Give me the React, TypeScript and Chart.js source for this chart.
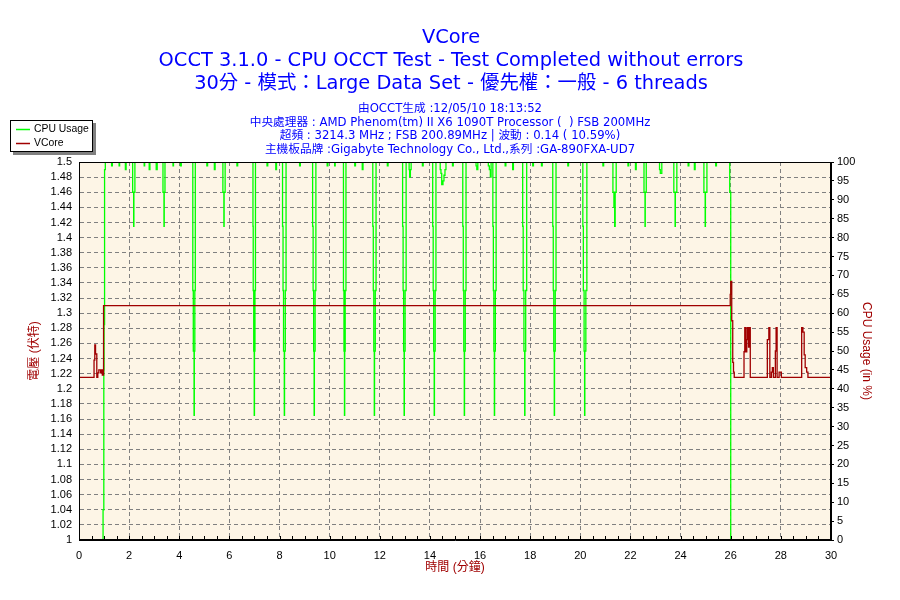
import React, { useEffect, useRef } from 'react';
import { Chart, registerables } from 'chart.js';

Chart.register(...registerables);

// ---------- text ----------
const titleLines = [
  'VCore',
  'OCCT 3.1.0 - CPU OCCT Test - Test Completed without errors',
  '30分 - 模式：Large Data Set - 優先權：一般 - 6 threads',
];
const infoLines = [
  '由OCCT生成 :12/05/10 18:13:52',
  '中央處理器 : AMD Phenom(tm) II X6 1090T Processor (  ) FSB 200MHz',
  '超頻 : 3214.3 MHz ; FSB 200.89MHz | 波動 : 0.14 ( 10.59%)',
  '主機板品牌 :Gigabyte Technology Co., Ltd.,系列 :GA-890FXA-UD7',
];
const legendLabels = ['CPU Usage', 'VCore'];
const xTitle = '時間 (分鐘)';
const leftTitle = '電壓 (伏特)';
const rightTitle = 'CPU Usage (in %)';

// ---------- data (change points: value holds from this minute on) ----------
const vcoreMinutes = [
  0, 0.6, 0.63, 0.66, 0.71, 0.75, 0.79, 0.86, 0.9, 0.93, 0.98,
  25.98, 26.0, 26.04, 26.08, 26.11, 26.14,
  26.53, 26.56, 26.61, 26.64, 26.67, 26.71, 26.75, 26.78,
  27.46, 27.52, 27.56, 27.62, 27.66, 27.7, 27.78, 27.81, 27.85, 27.93, 28.02,
  28.83, 28.88, 28.93, 28.97, 29.03, 29.08, 30,
];
const vcoreVolts = [
  1.215, 1.238, 1.258, 1.246, 1.215, 1.221, 1.225, 1.221, 1.225, 1.218, 1.31,
  1.325, 1.342, 1.29, 1.235, 1.222, 1.215,
  1.249, 1.281, 1.249, 1.265, 1.281, 1.255, 1.281, 1.215,
  1.265, 1.281, 1.215, 1.222, 1.228, 1.215, 1.25, 1.281, 1.215, 1.222, 1.215,
  1.281, 1.275, 1.245, 1.228, 1.222, 1.215, 1.215,
];

const cpuMinutes = [
  0.95, 0.96, 0.99, 1.0, 1.02, 1.05,
  1.3, 1.33, 1.6, 1.62, 1.85, 1.88,
  2.14, 2.18, 2.19, 2.23,
  2.6, 2.62, 2.8, 2.83, 3.08, 3.12,
  3.35, 3.39, 3.4, 3.43,
  3.75, 3.77, 4.05, 4.08,
  4.54, 4.56, 4.59, 4.6, 4.62, 4.64,
  5.1, 5.13, 5.4, 5.43,
  5.74, 5.78, 5.79, 5.83,
  6.3, 6.33,
  6.94, 6.95, 6.97, 6.99, 7.0, 7.02, 7.04,
  7.5, 7.53, 7.85, 7.88,
  8.12, 8.14, 8.16, 8.19, 8.2, 8.23, 8.26,
  8.8, 8.83,
  9.32, 9.34, 9.36, 9.38, 9.39, 9.42, 9.45,
  9.9, 9.93, 10.2, 10.22,
  10.55, 10.57, 10.59, 10.6, 10.62, 10.65,
  11.0, 11.03, 11.3, 11.33,
  11.72, 11.74, 11.76, 11.78, 11.79, 11.82, 11.85,
  12.3, 12.33,
  12.91, 12.93, 12.95, 12.97, 12.98, 13.01, 13.05,
  13.17, 13.19, 13.22, 13.25,
  13.7, 13.73,
  14.11, 14.13, 14.15, 14.17, 14.18, 14.21, 14.24,
  14.41, 14.44, 14.47, 14.52, 14.56, 14.6, 14.64,
  14.9, 14.93,
  15.31, 15.33, 15.35, 15.37, 15.38, 15.41, 15.44,
  15.84, 15.87, 15.91,
  16.33, 16.37, 16.41, 16.44,
  16.51, 16.53, 16.55, 16.57, 16.58, 16.61, 16.64,
  17.0, 17.03, 17.3, 17.33,
  17.7, 17.72, 17.75, 17.78, 17.79, 17.82, 17.86,
  18.1, 18.13, 18.45, 18.48,
  18.9, 18.92, 18.94, 18.96, 18.97, 19.0, 19.03,
  19.5, 19.53,
  20.1, 20.12, 20.15, 20.17, 20.18, 20.22, 20.26,
  20.9, 20.93,
  21.3, 21.34, 21.37, 21.39, 21.43,
  21.9, 21.93, 22.2, 22.23,
  22.54, 22.58, 22.59, 22.63,
  23.16, 23.19, 23.25,
  23.73, 23.78, 23.79, 23.85,
  24.3, 24.33, 24.55, 24.58,
  24.93, 24.98, 24.99, 25.05,
  25.4, 25.43,
  25.96, 26.0,
];
const cpuPercent = [
  0, 8, 45, 57, 98, 100,
  99, 100, 99, 100, 98, 100,
  92, 83, 92, 100,
  99, 100, 98, 100, 98, 100,
  92, 83, 92, 100,
  99, 100, 99, 100,
  66, 50, 33, 50, 66, 100,
  99, 100, 98, 100,
  92, 83, 92, 100,
  99, 100,
  83, 66, 50, 33, 50, 66, 100,
  99, 100, 98, 100,
  83, 66, 50, 33, 50, 66, 100,
  99, 100,
  83, 66, 50, 33, 50, 66, 100,
  99, 100, 99, 100,
  66, 50, 33, 50, 66, 100,
  99, 100, 98, 100,
  83, 66, 50, 33, 50, 66, 100,
  99, 100,
  83, 66, 50, 33, 50, 66, 100,
  98, 96, 98, 100,
  99, 100,
  83, 66, 50, 33, 50, 66, 100,
  98, 97, 94, 95, 96.5, 98, 100,
  99, 100,
  83, 66, 50, 33, 50, 66, 100,
  99, 98, 100,
  99, 98, 96, 100,
  83, 66, 50, 33, 50, 66, 100,
  99, 100, 98, 100,
  83, 66, 50, 33, 50, 66, 100,
  99, 100, 99, 100,
  83, 66, 50, 33, 50, 66, 100,
  99, 100,
  83, 66, 50, 33, 50, 66, 100,
  99, 100,
  92, 88, 83, 92, 100,
  99, 100, 98, 100,
  92, 83, 92, 100,
  98, 97, 100,
  92, 83, 92, 100,
  99, 100, 98, 100,
  92, 83, 92, 100,
  99, 100,
  92, 0,
];

// ---------- styles ----------
const GREEN = '#00ff00';
const RED = '#a00000';
const BLUE = '#0000ff';
const AXIS_RED = '#a00000';
const PLOT_BG = '#fdf5e6';
const GRID = '#808080';
const TICK_FONT = { family: '"Liberation Sans", Arial, "Noto Sans CJK TC", sans-serif', size: 11 };
const AXIS_TITLE_FONT = { family: '"Liberation Sans", Arial, "Noto Sans CJK TC", sans-serif', size: 12 };
const TITLE_FAMILY = '"DejaVu Sans", "Noto Sans CJK TC", sans-serif';

const decorPlugin = {
  id: 'decor',
  beforeDraw(chart: any) {
    const { ctx, chartArea: a } = chart;
    ctx.save();
    ctx.fillStyle = '#ffffff';
    ctx.fillRect(0, 0, chart.width, chart.height);
    ctx.fillStyle = PLOT_BG;
    ctx.fillRect(a.left, a.top, a.right - a.left, a.bottom - a.top);
    ctx.restore();
  },
  afterDatasetsDraw(chart: any) {
    const { ctx, chartArea: a } = chart;
    ctx.save();
    ctx.strokeStyle = '#000';
    ctx.lineWidth = 1;
    ctx.strokeRect(a.left + 0.5, a.top + 0.5, a.right - a.left - 1, a.bottom - a.top - 1);
    // inward tick marks on the time axis
    const xs = chart.scales.x;
    ctx.beginPath();
    for (const t of xs.ticks) {
      const px = Math.round(xs.getPixelForValue(t.value)) + 0.5;
      ctx.moveTo(px, a.bottom - 1);
      ctx.lineTo(px, a.bottom - 4);
    }
    ctx.stroke();
    ctx.restore();
  },
  afterDraw(chart: any) {
    const { ctx } = chart;
    ctx.save();
    ctx.fillStyle = BLUE;
    ctx.textAlign = 'center';
    ctx.textBaseline = 'middle';
    ctx.font = `19.4px ${TITLE_FAMILY}`;
    const ty = [38, 61, 84];
    titleLines.forEach((t, i) => ctx.fillText(t, 451, ty[i]));
    ctx.font = `11.7px ${TITLE_FAMILY}`;
    const iy = [109, 122.5, 136, 149.5];
    infoLines.forEach((t, i) => ctx.fillText(t, 450, iy[i]));

    // legend box
    ctx.fillStyle = '#808080';
    ctx.fillRect(13, 123, 83, 32);
    ctx.fillStyle = '#ffffff';
    ctx.fillRect(10, 120, 83, 32);
    ctx.strokeStyle = '#000';
    ctx.lineWidth = 1;
    ctx.strokeRect(10.5, 120.5, 82, 31);
    const colors = [GREEN, RED];
    const ly = [129.5, 143.5];
    ctx.font = '10.4px "Liberation Sans", Arial, sans-serif';
    ctx.textAlign = 'left';
    legendLabels.forEach((lab, i) => {
      ctx.strokeStyle = colors[i];
      ctx.lineWidth = 1.5;
      ctx.beginPath();
      ctx.moveTo(16, ly[i]);
      ctx.lineTo(30, ly[i]);
      ctx.stroke();
      ctx.fillStyle = '#000';
      ctx.fillText(lab, 34, ly[i]);
    });
    ctx.restore();
  },
};

export default function App() {
  const ref = useRef<HTMLCanvasElement>(null);

  useEffect(() => {
    const canvas = ref.current;
    if (!canvas) return;
    const vcoreData = vcoreMinutes.map((m, i) => ({ x: m, y: vcoreVolts[i] }));
    const cpuData = cpuMinutes.map((m, i) => ({ x: m, y: cpuPercent[i] }));

    const chart = new Chart(canvas, {
      type: 'line',
      data: {
        datasets: [
          {
            label: legendLabels[1],
            data: vcoreData,
            yAxisID: 'yV',
            borderColor: RED,
            borderWidth: 1.3,
            pointRadius: 0,
            stepped: true,
            fill: false,
            clip: 0,
          },
          {
            label: legendLabels[0],
            data: cpuData,
            yAxisID: 'yC',
            borderColor: GREEN,
            borderWidth: 1.3,
            pointRadius: 0,
            stepped: true,
            fill: false,
            clip: 0,
          },
        ],
      },
      options: {
        responsive: false,
        animation: false,
        events: [],
        layout: { padding: { top: 162, left: 0, right: 0, bottom: 0 } },
        plugins: {
          legend: { display: false },
          tooltip: { enabled: false },
          title: { display: false },
        },
        scales: {
          x: {
            type: 'linear',
            min: 0,
            max: 30,
            afterFit: (s: any) => { s.height = 60; },
            ticks: {
              stepSize: 0.5,
              autoSkip: false,
              maxRotation: 0,
              minRotation: 0,
              padding: 9,
              color: '#000',
              font: TICK_FONT,
              callback: (v: any) => (Number(v) % 2 === 0 ? String(v) : ''),
            },
            grid: {
              color: (c: any) => (c.tick && c.tick.value % 2 === 0 ? GRID : 'rgba(0,0,0,0)'),
              drawTicks: false,
              lineWidth: 1,
            },
            border: { color: '#000', dash: [4, 3] },
            title: {
              display: true,
              text: xTitle,
              color: AXIS_RED,
              font: AXIS_TITLE_FONT,
              padding: { top: 0, bottom: 24.8 },
            },
          },
          yV: {
            type: 'linear',
            position: 'left',
            min: 1,
            max: 1.5,
            afterFit: (s: any) => { s.width = 79; },
            ticks: {
              stepSize: 0.02,
              autoSkip: false,
              padding: 7,
              color: '#000',
              font: TICK_FONT,
              callback: (v: any) => String(Math.round(Number(v) * 100) / 100),
            },
            grid: { color: GRID, drawTicks: false, lineWidth: 1 },
            border: { color: '#000', dash: [4, 3] },
            title: {
              display: true,
              text: leftTitle,
              color: AXIS_RED,
              font: AXIS_TITLE_FONT,
              padding: { top: 27.8, bottom: 0 },
            },
          },
          yC: {
            type: 'linear',
            position: 'right',
            min: 0,
            max: 100,
            afterFit: (s: any) => { s.width = 69; },
            ticks: {
              stepSize: 5,
              autoSkip: false,
              padding: 3,
              color: '#000',
              font: TICK_FONT,
            },
            grid: { drawOnChartArea: false, drawTicks: true, tickLength: 3, tickColor: '#000' },
            border: { color: '#000' },
            title: {
              display: true,
              text: rightTitle,
              color: AXIS_RED,
              font: AXIS_TITLE_FONT,
              padding: { top: 26.8, bottom: 0 },
            },
          },
        },
      },
      plugins: [decorPlugin],
    } as any);

    return () => chart.destroy();
  }, []);

  return (
    <div style={{ position: 'fixed', left: 0, top: 0, width: 900, height: 600, background: '#fff' }}>
      <canvas ref={ref} width={900} height={600} style={{ width: 900, height: 600, display: 'block' }} />
    </div>
  );
}
